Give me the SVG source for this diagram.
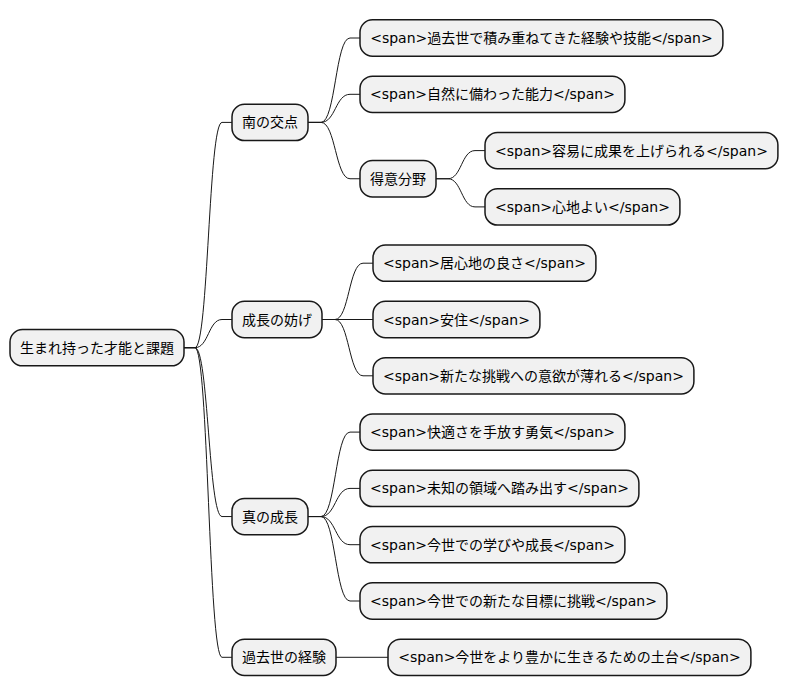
<svg xmlns="http://www.w3.org/2000/svg" width="789" height="696" viewBox="0 0 789 696">
<style>
.n rect{fill:#F1F1F1;stroke:#181818;stroke-width:1.5}
.n text{font-family:"DejaVu Sans","Noto Sans CJK JP",sans-serif;font-size:14px;fill:#000;text-anchor:middle}
#connectors path{fill:none;stroke:#181818;stroke-width:1}
</style>
<rect width="789" height="696" fill="#FFFFFF"/>
<g id="connectors">
<path d="M184,347.7 L195,347.7 C208.5,347.7 208.5,122.4 222,122.4 L232,122.4"/>
<path d="M184,347.7 L195,347.7 C208.5,347.7 208.5,319.5 222,319.5 L232,319.5"/>
<path d="M184,347.7 L195,347.7 C208.5,347.7 208.5,516.55 222,516.55 L232,516.55"/>
<path d="M184,347.7 L195,347.7 C208.5,347.7 208.5,657.3 222,657.3 L232,657.3"/>
<path d="M308,122.4 L321,122.4 C335.5,122.4 335.5,38 350,38 L360,38"/>
<path d="M308,122.4 L321,122.4 C335.5,122.4 335.5,94.3 350,94.3 L360,94.3"/>
<path d="M308,122.4 L321,122.4 C335.5,122.4 335.5,178.75 350,178.75 L360,178.75"/>
<path d="M436,178.75 L448,178.75 C461.5,178.75 461.5,150.6 475,150.6 L485,150.6"/>
<path d="M436,178.75 L448,178.75 C461.5,178.75 461.5,206.9 475,206.9 L485,206.9"/>
<path d="M322,319.5 L335,319.5 C349,319.5 349,263.2 363,263.2 L373,263.2"/>
<path d="M322,319.5 L373,319.5"/>
<path d="M322,319.5 L335,319.5 C349,319.5 349,375.8 363,375.8 L373,375.8"/>
<path d="M308,516.55 L321,516.55 C335.5,516.55 335.5,432.1 350,432.1 L360,432.1"/>
<path d="M308,516.55 L321,516.55 C335.5,516.55 335.5,488.4 350,488.4 L360,488.4"/>
<path d="M308,516.55 L321,516.55 C335.5,516.55 335.5,544.7 350,544.7 L360,544.7"/>
<path d="M308,516.55 L321,516.55 C335.5,516.55 335.5,601 350,601 L360,601"/>
<path d="M336,657.3 L388,657.3"/>
</g>
<g id="root" class="n"><rect x="10" y="329.55" width="174" height="36.3" rx="12.5"/><text x="97" y="352.7">生まれ持った才能と課題</text></g>
<g id="minami" class="n"><rect x="232" y="104.25" width="76" height="36.3" rx="12.5"/><text x="270" y="127.4">南の交点</text></g>
<g id="n_kako_keiken" class="n"><rect x="360" y="19.85" width="362.9" height="36.3" rx="12.5"/><text x="541.45" y="43">&lt;span&gt;過去世で積み重ねてきた経験や技能&lt;/span&gt;</text></g>
<g id="n_shizen" class="n"><rect x="360" y="76.15" width="264.9" height="36.3" rx="12.5"/><text x="492.45" y="99.3">&lt;span&gt;自然に備わった能力&lt;/span&gt;</text></g>
<g id="tokui" class="n"><rect x="360" y="160.6" width="76" height="36.3" rx="12.5"/><text x="398" y="183.75">得意分野</text></g>
<g id="n_youi" class="n"><rect x="485" y="132.45" width="292.9" height="36.3" rx="12.5"/><text x="631.45" y="155.6">&lt;span&gt;容易に成果を上げられる&lt;/span&gt;</text></g>
<g id="n_kokochi" class="n"><rect x="485" y="188.75" width="194.9" height="36.3" rx="12.5"/><text x="582.45" y="211.9">&lt;span&gt;心地よい&lt;/span&gt;</text></g>
<g id="samatage" class="n"><rect x="232" y="301.35" width="90" height="36.3" rx="12.5"/><text x="277" y="324.5">成長の妨げ</text></g>
<g id="n_igokochi" class="n"><rect x="373" y="245.05" width="222.9" height="36.3" rx="12.5"/><text x="484.45" y="268.2">&lt;span&gt;居心地の良さ&lt;/span&gt;</text></g>
<g id="n_anjuu" class="n"><rect x="373" y="301.35" width="166.9" height="36.3" rx="12.5"/><text x="456.45" y="324.5">&lt;span&gt;安住&lt;/span&gt;</text></g>
<g id="n_iyoku" class="n"><rect x="373" y="357.65" width="320.9" height="36.3" rx="12.5"/><text x="533.45" y="380.8">&lt;span&gt;新たな挑戦への意欲が薄れる&lt;/span&gt;</text></g>
<g id="shin" class="n"><rect x="232" y="498.4" width="76" height="36.3" rx="12.5"/><text x="270" y="521.55">真の成長</text></g>
<g id="n_kaiteki" class="n"><rect x="360" y="413.95" width="264.9" height="36.3" rx="12.5"/><text x="492.45" y="437.1">&lt;span&gt;快適さを手放す勇気&lt;/span&gt;</text></g>
<g id="n_michi" class="n"><rect x="360" y="470.25" width="278.9" height="36.3" rx="12.5"/><text x="499.45" y="493.4">&lt;span&gt;未知の領域へ踏み出す&lt;/span&gt;</text></g>
<g id="n_manabi" class="n"><rect x="360" y="526.55" width="264.9" height="36.3" rx="12.5"/><text x="492.45" y="549.7">&lt;span&gt;今世での学びや成長&lt;/span&gt;</text></g>
<g id="n_mokuhyou" class="n"><rect x="360" y="582.85" width="306.9" height="36.3" rx="12.5"/><text x="513.45" y="606">&lt;span&gt;今世での新たな目標に挑戦&lt;/span&gt;</text></g>
<g id="kakose" class="n"><rect x="232" y="639.15" width="104" height="36.3" rx="12.5"/><text x="284" y="662.3">過去世の経験</text></g>
<g id="n_dodai" class="n"><rect x="388" y="639.15" width="362.9" height="36.3" rx="12.5"/><text x="569.45" y="662.3">&lt;span&gt;今世をより豊かに生きるための土台&lt;/span&gt;</text></g>
</svg>
